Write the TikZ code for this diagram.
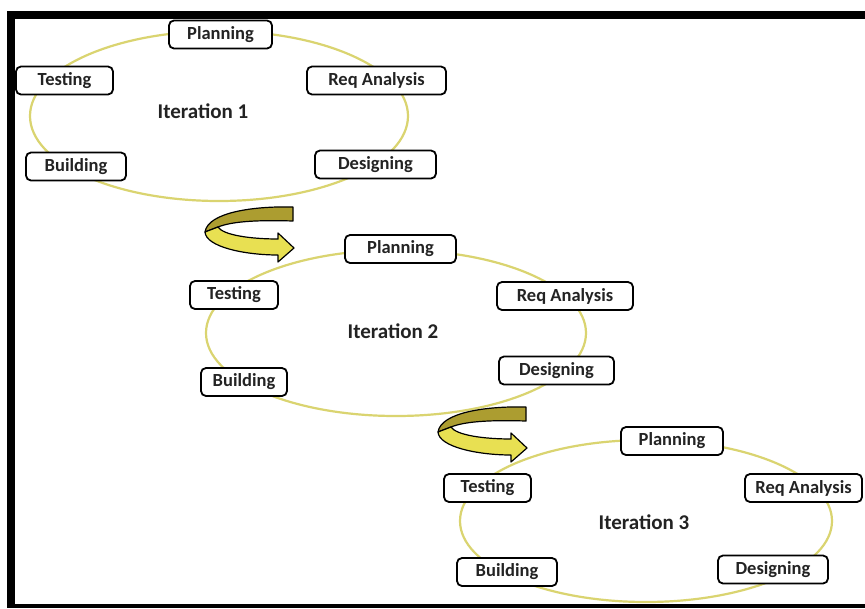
\documentclass[tikz,border=0pt]{standalone}
\usepackage{fontspec}
\setmainfont{Carlito}
\definecolor{ringline}{RGB}{218,212,112}
\definecolor{backband}{RGB}{172,157,48}
\definecolor{frontband}{RGB}{232,224,82}
\definecolor{inktext}{RGB}{35,35,35}
\tikzset{
  stagebox/.style={draw=black, line width=1.8pt, rounded corners=5pt, fill=white,
    minimum height=28pt, inner sep=0pt, text=inktext,
    font=\fontsize{18.5}{20}\selectfont\bfseries},
  itlabel/.style={inner sep=0pt, text=inktext, font=\fontsize{21}{23}\selectfont\bfseries},
  ring/.style={draw=ringline, line width=2.2pt},
  frame/.style={fill=black},
  uturn/.pic={
    % back (darker) half of the ribbon
    \filldraw[fill=backband, draw=black, line width=1.2pt, line join=round]
      (88,0) .. controls (50,-1) and (3,5) .. (0,25) -- (13,20)
      .. controls (28,14) and (55,13) .. (88,14) -- cycle;
    % front (lighter) half ending in the arrow head
    \filldraw[fill=frontband, draw=black, line width=1.2pt, line join=round]
      (0,25) .. controls (1,40) and (40,48) .. (73,48) -- (73,55) -- (89,41)
      -- (73,26) -- (73,32) .. controls (45,32) and (18,28) .. (13,20) -- cycle;
  }
}
\begin{document}
\begin{tikzpicture}[x=1pt, y=-1pt]
\useasboundingbox (0,0) rectangle (865,608);
\fill[white] (0,0) rectangle (865,608);

% frame bars
\fill[frame] (7,11) rectangle (865,19);
\fill[frame] (7,11) rectangle (15,608);
\fill[frame] (7,604) rectangle (865,608);

% iteration cycles
\draw[ring] (219,116) ellipse [x radius=189, y radius=85];
\draw[ring] (396,333) ellipse [x radius=190, y radius=83];
\draw[ring] (646,521) ellipse [x radius=186, y radius=81];

% turn arrows between iterations
\pic at (205,207) {uturn};
\pic at (438,407) {uturn};

% iteration 1
\node[itlabel] (it1) at (203,111) {Iteration 1};
\node[stagebox, minimum width=103pt] (plan1) at (220.5,34.5) {Planning};
\node[stagebox, minimum width=139pt] (req1) at (376.5,80.5) {Req Analysis};
\node[stagebox, minimum width=97pt] (test1) at (64.5,80.5) {Testing};
\node[stagebox, minimum width=100pt] (build1) at (76,166.5) {Building};
\node[stagebox, minimum width=121pt] (des1) at (375.5,164.5) {Designing};

% iteration 2
\node[itlabel] (it2) at (393,331) {Iteration 2};
\node[stagebox, minimum width=111pt] (plan2) at (400.5,249) {Planning};
\node[stagebox, minimum width=88pt] (test2) at (234,295) {Testing};
\node[stagebox, minimum width=136pt] (req2) at (565,296) {Req Analysis};
\node[stagebox, minimum width=86pt] (build2) at (244,382) {Building};
\node[stagebox, minimum width=115pt] (des2) at (556.5,370.5) {Designing};

% iteration 3
\node[itlabel] (it3) at (644,522) {Iteration 3};
\node[stagebox, minimum width=102pt] (plan3) at (672,441) {Planning};
\node[stagebox, minimum width=87pt] (test3) at (487.5,488) {Testing};
\node[stagebox, minimum width=117pt] (req3) at (803.5,488) {Req Analysis};
\node[stagebox, minimum width=100pt] (build3) at (507,572) {Building};
\node[stagebox, minimum width=110pt] (des3) at (773,569.5) {Designing};
\end{tikzpicture}
\end{document}
